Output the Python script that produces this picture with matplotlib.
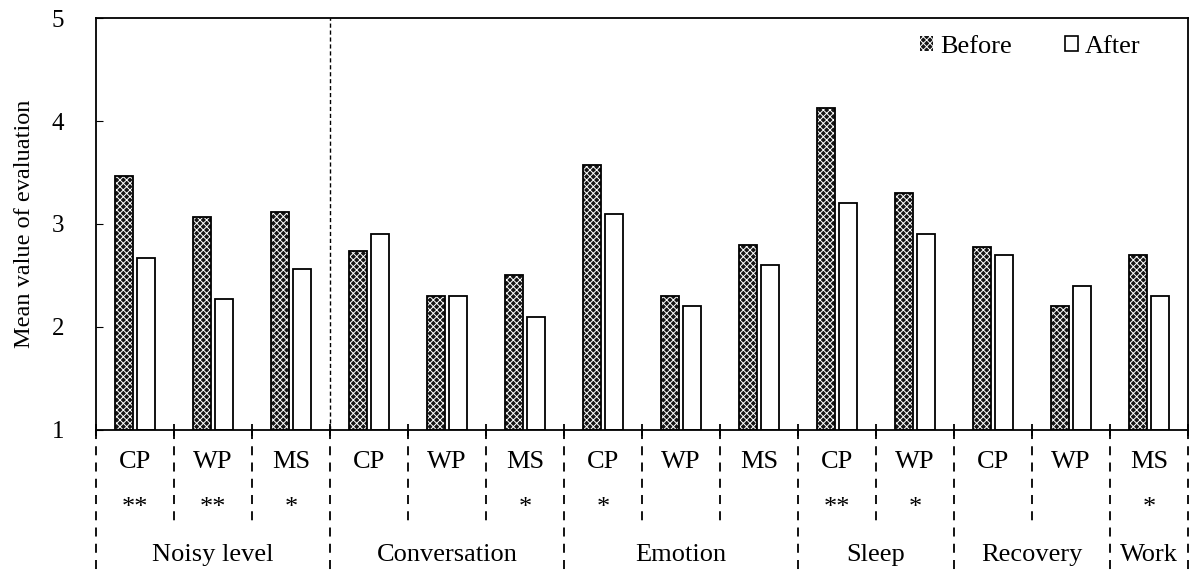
import numpy as np
import matplotlib.pyplot as plt
import matplotlib.transforms as mtransforms

plt.rcParams["font.family"] = ["Liberation Serif", "DejaVu Serif"]
plt.rcParams["hatch.linewidth"] = 0.7

# データ
groups = ["CP", "WP", "MS", "CP", "WP", "MS", "CP", "WP", "MS", "CP", "WP", "CP", "WP", "MS"]
before = [3.47, 3.07, 3.12, 2.74, 2.30, 2.50, 3.57, 2.30, 2.80, 4.13, 3.30, 2.78, 2.20, 2.70]
after = [2.67, 2.27, 2.56, 2.90, 2.30, 2.10, 3.10, 2.20, 2.60, 3.20, 2.90, 2.70, 2.40, 2.30]
stars = ["**", "**", "*", "", "", "*", "*", "", "", "**", "*", "", "", "*"]
categories = ["Noisy level", "Conversation", "Emotion", "Sleep", "Recovery", "Work"]
cat_sizes = [3, 3, 3, 2, 2, 1]

FS = 19
fig = plt.figure(figsize=(11.93, 5.72), dpi=100)
ax = fig.add_axes([0.0805, 0.2483, 0.9153, 0.7202])

x = np.arange(len(groups)) + 0.5
w = 0.23
off = 0.14

# Before: 濃い地に白い網目
ax.bar(x - off, np.array(before) - 1, w, bottom=1, color="#151515",
       edgecolor="white", hatch="xxxxx", linewidth=0)
ax.bar(x - off, np.array(before) - 1, w, bottom=1, fill=False,
       edgecolor="black", linewidth=1.3)
ax.bar(x + off, np.array(after) - 1, w, bottom=1, color="white",
       edgecolor="black", linewidth=1.3)

ax.set_xlim(0, len(groups))
ax.set_ylim(1, 5)
ax.set_yticks([1, 2, 3, 4, 5])
ax.tick_params(axis="y", direction="in", length=5, labelsize=18, pad=23)
ax.set_xticks(np.arange(len(groups) + 1))
ax.set_xticklabels([])
ax.tick_params(axis="x", direction="inout", length=9, width=1.3)
ax.set_ylabel("Mean value of evaluation", fontsize=17.5, labelpad=12)
for s in ax.spines.values():
    s.set_linewidth(1.3)

# Noisy level と Conversation の境界線
ax.axvline(3, color="black", linestyle=(0, (3, 2)), linewidth=1)

# 下部の表
trans = mtransforms.blended_transform_factory(ax.transData, ax.transAxes)
bounds = np.concatenate([[0], np.cumsum(cat_sizes)])
for i in range(len(groups) + 1):
    y_end = -0.345 if i in bounds else -0.226
    ax.plot([i, i], [0, y_end], transform=trans, color="black",
            linestyle=(0, (5, 4)), linewidth=1.3, clip_on=False)

for i, g in enumerate(groups):
    ax.text(x[i], -0.078, g, transform=trans, ha="center", va="center", fontsize=FS)
    if stars[i]:
        ax.text(x[i], -0.19, stars[i], transform=trans, ha="center", va="center", fontsize=FS)

for i, c in enumerate(categories):
    cx = (bounds[i] + bounds[i + 1]) / 2
    ax.text(cx, -0.303, c, transform=trans, ha="center", va="center", fontsize=FS)

# 凡例
h1 = plt.Rectangle((0, 0), 1, 1, facecolor="#151515", edgecolor="white", hatch="xxxxx", linewidth=0)
h2 = plt.Rectangle((0, 0), 1, 1, facecolor="white", edgecolor="black", linewidth=1.2)
ax.legend([h1, h2], ["Before", "After"], loc="center right", ncol=2, frameon=False,
          fontsize=FS, handlelength=0.5, handleheight=0.5, handletextpad=0.25,
          columnspacing=2.0, borderpad=0, borderaxespad=0,
          bbox_to_anchor=(0.956, 0.93))

fig.savefig("out.png", dpi=100)
